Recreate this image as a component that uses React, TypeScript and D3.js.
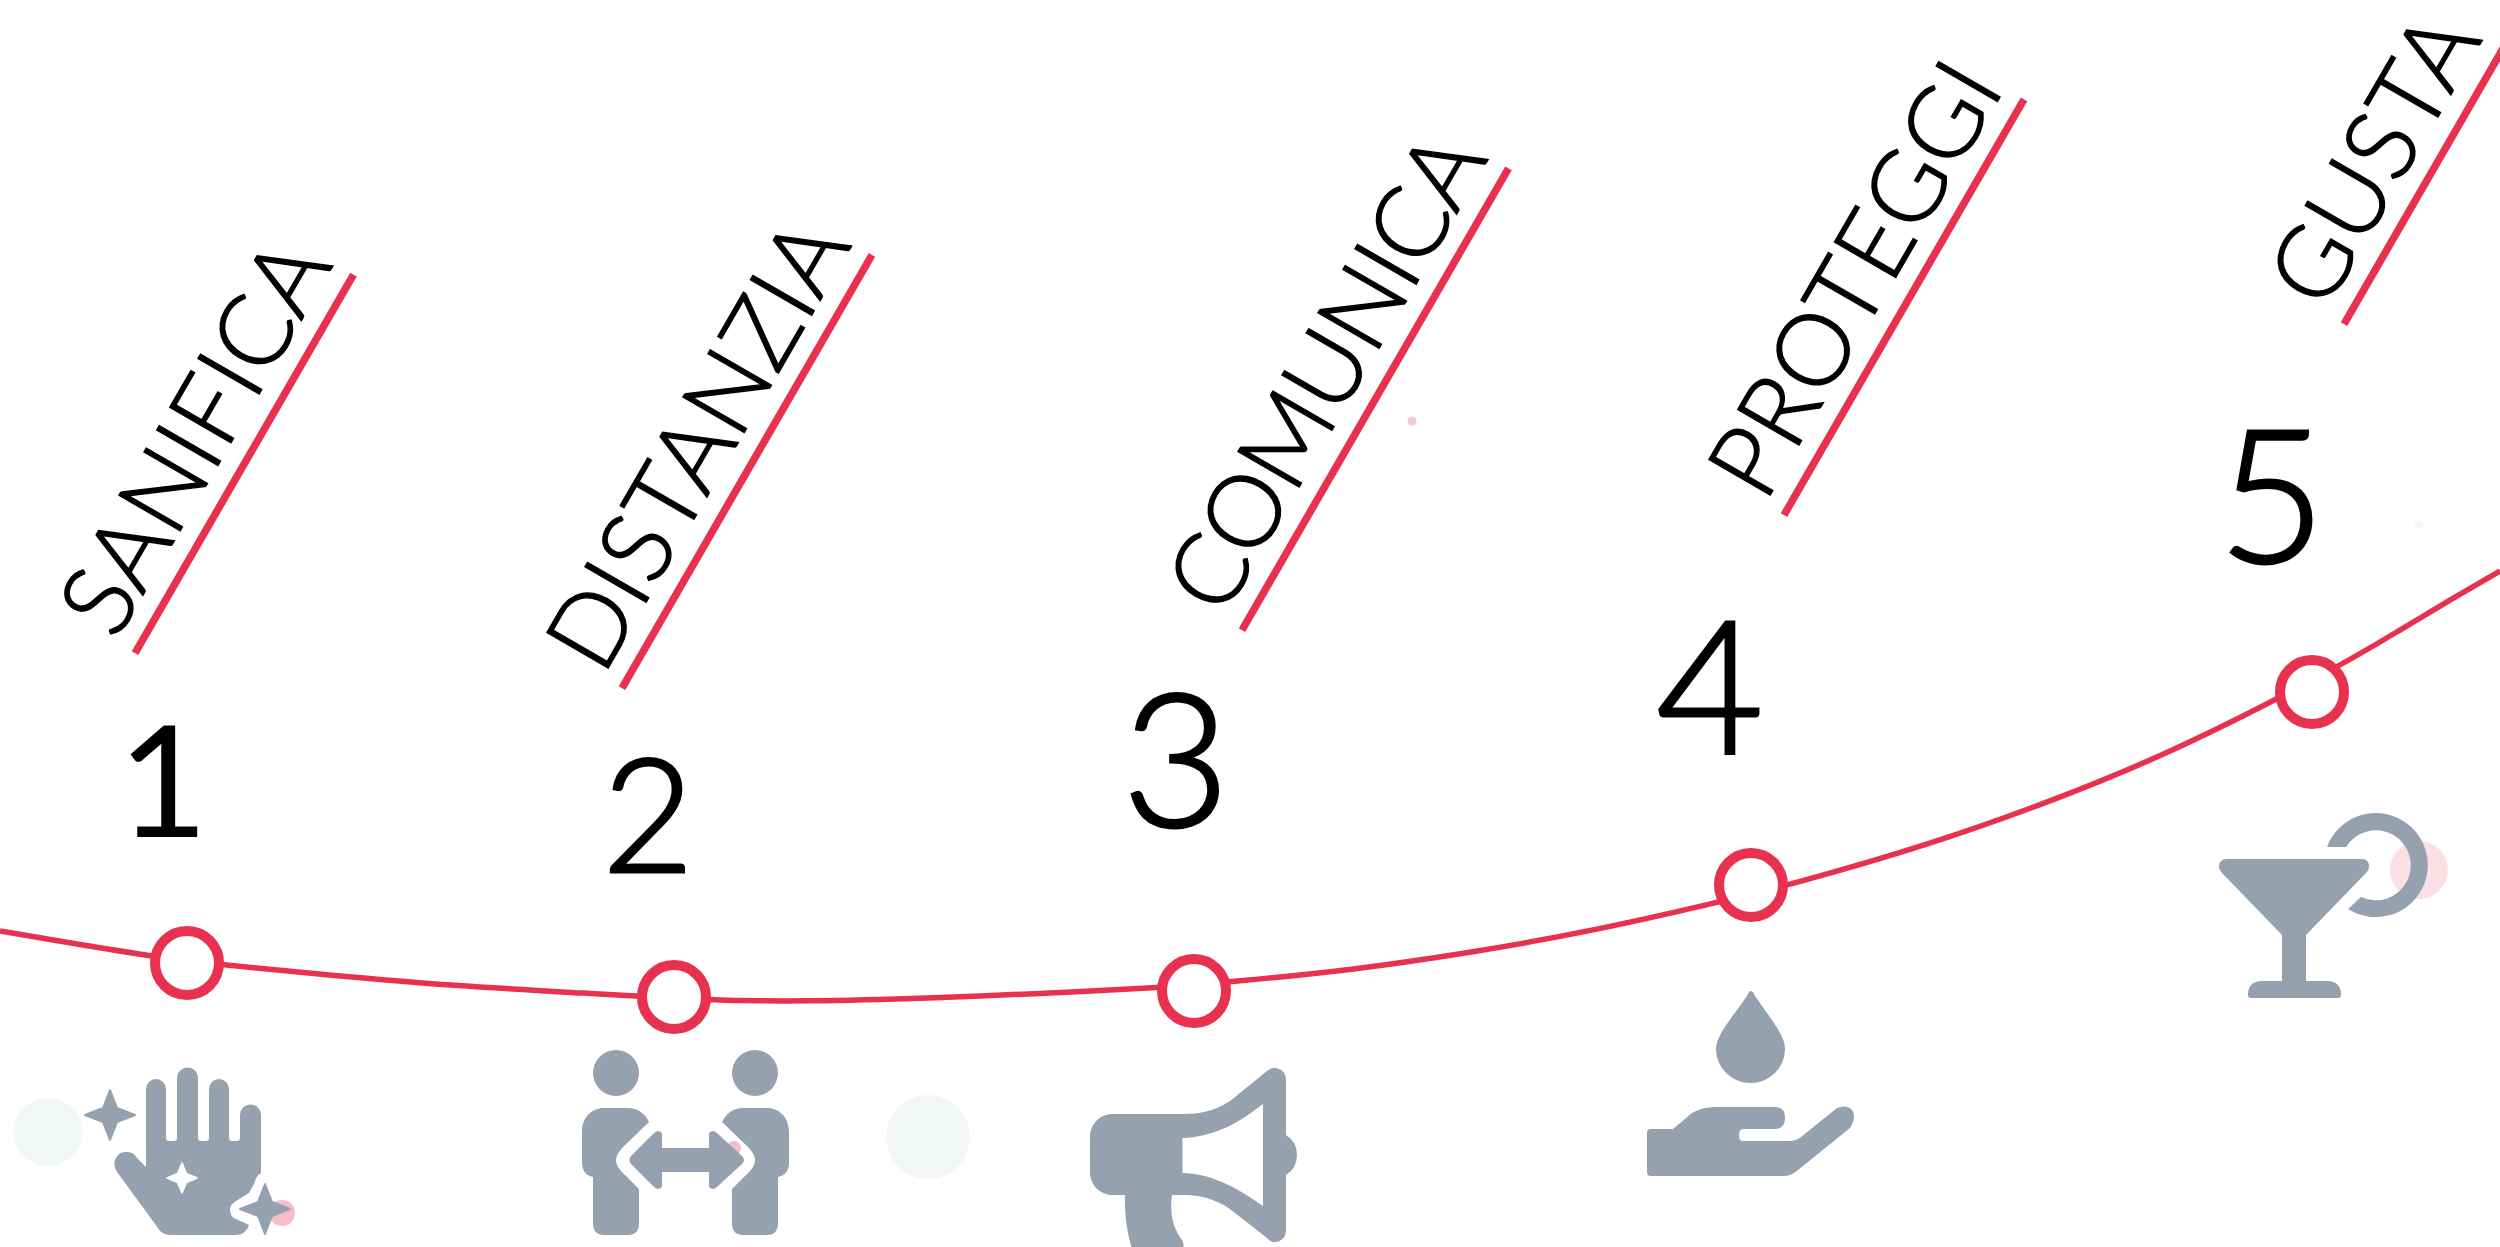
import React from "react";
import * as d3 from "d3";

const W = 2500;
const H = 1247;

// Steps
const stepNumbers = ["1", "2", "3", "4", "5"];
const stepLabels = ["SANIFICA", "DISTANZIA", "COMUNICA", "PROTEGGI", "GUSTA"];
const nodeX = [187, 674, 1194, 1751, 2312];
const nodeH = [284, 250, 256, 362, 555];
const numberX = [163, 648, 1176, 1710, 2272];
const numberH = [410, 375, 420, 493, 684];
const numberSize = [156, 158, 186, 186, 186];
const numberWeight = [400, 300, 300, 300, 300];
const numberStroke = [0, 3, 3, 3, 3];
const labelSpacing = [0, 0, -1.7, 0, 0];
const ruleStartX = [135, 622, 1242, 1784, 2344];
const ruleStartH = [594, 559, 617, 732, 923];
const ruleLength = [437, 500, 533, 480, 320];

// The growth curve
const curveX = [0, 152, 224, 328, 455, 583, 712, 806, 933, 1029, 1157, 1229, 1353, 1468, 1583, 1720, 1800, 1925, 2050, 2178, 2337, 2400, 2450, 2500];
const curveH = [316, 290, 282, 272, 261, 254, 246.5, 245.5, 249, 253, 259, 265, 277, 294, 314, 345, 365, 401, 445, 497, 579, 617, 647, 676];

// Background bubbles
const bubbleX = [48, 928, 282, 734, 1412, 2419, 2419];
const bubbleH = [115, 110, 34, 99, 826, 377, 722];
const bubbleR = [34, 42, 13, 7, 4.5, 29, 4];
const bubbleFill = ["#f2f6f7", "#f2f6f7", "#f6bdc8", "#f6bdc8", "#f8c6d0", "#fbe0e5", "#f4f6f7"];

const RED = "#e8304f";
const GREY = "#95a1af";
const INK = "#000000";

const star = (cx: number, cy: number, r: number, i: number) =>
  `M${cx} ${cy - r}L${cx + i} ${cy - i}L${cx + r} ${cy}L${cx + i} ${cy + i}L${cx} ${cy + r}L${cx - i} ${cy + i}L${cx - r} ${cy}L${cx - i} ${cy - i}Z`;

const handPath =
  "M146 1167L146 1089A10 10 0 0 1 166 1089L166 1138Q166 1141 169 1141L174 1141Q177 1141 177 1138L177 1078A10.5 10.5 0 0 1 198 1078L198 1138Q198 1141 201 1141L206 1141Q209 1141 209 1138L209 1089A10 10 0 0 1 229 1089L229 1138Q229 1141 232 1141L237 1141Q240 1141 240 1138L240 1115A10.5 10.5 0 0 1 261 1115L261 1173Q256 1176 254 1184L249 1193L236 1201Q230 1205 230 1209Q230 1217 236 1219L249 1225Q246 1235 235 1235L170 1235Q162 1235 158 1228L117 1172Q113 1165 115 1160Q119 1151 126 1152Q133 1151 137 1158L146 1167Z";
const personPath =
  "M582 1132C582 1117 592 1108 604 1108L628 1108Q642 1108 649 1122L622 1148Q616 1155 616 1160Q616 1166 622 1172L639 1189L639 1223Q639 1235 628 1235L604 1235Q593 1235 593 1223L593 1177Q582 1175 582 1162Z";
const arrowPath =
  "M631 1156L654 1133Q658 1129 662 1133L662 1148L709 1148L709 1133Q713 1129 717 1133L742 1156Q746 1160 742 1164L717 1187Q713 1191 709 1187L709 1172L662 1172L662 1187Q658 1191 654 1187L631 1164Q628 1160 631 1156Z";
const megaphonePath =
  "M1113 1114L1184 1114C1205 1114 1222 1108 1235 1097L1267 1071Q1272 1067 1276 1068Q1286 1070 1286 1080L1286 1135Q1297 1142 1297 1155Q1297 1168 1286 1175L1286 1230Q1286 1240 1276 1242Q1271 1243 1267 1238L1235 1213C1222 1202 1205 1195 1184 1195L1172 1195Q1168 1222 1182 1240Q1186 1247 1180 1252L1133 1252Q1124 1225 1125 1195L1113 1195C1100 1195 1090 1185 1090 1172L1090 1137C1090 1124 1100 1114 1113 1114ZM1182.5 1138L1182.5 1173C1215 1174 1240 1190 1263 1206L1263 1104C1240 1122 1215 1137 1182.5 1138Z";
const dropPath =
  "M1751 991Q1753 991 1755 996C1770 1018 1785 1035 1785 1049A34.5 34 0 0 1 1716 1049C1716 1035 1732 1018 1747 996Q1749 991 1751 991Z";
const palmPath =
  "M1651 1129L1673 1129L1692 1113Q1702 1107 1715 1107L1775 1107Q1785 1107 1785 1118Q1785 1129 1775 1129L1743 1129Q1739 1129 1739 1135Q1739 1141 1743 1141L1789 1141Q1796 1141 1801 1137L1837 1108Q1844 1105 1850 1108Q1858 1115 1850 1128L1798 1170Q1791 1176 1784 1176L1651 1176Q1647 1176 1647 1172L1647 1133Q1647 1129 1651 1129Z";
const glassPath =
  "M2227 859L2362 859Q2369 859 2369 867Q2369 870 2366 873L2306 935L2306 981L2327 981Q2341 981 2341 995Q2341 998 2338 998L2251 998Q2248 998 2248 995Q2248 981 2262 981L2282 981L2282 935L2222 873Q2219 870 2219 867Q2219 859 2227 859Z";
const ringPath = "M2327 847A52 52 0 1 1 2348 909L2361 897A35 35 0 1 0 2346 847Z";

export default function App() {
  const x = d3.scaleLinear().domain([0, W]).range([0, W]);
  const y = d3.scaleLinear().domain([0, H]).range([H, 0]);
  const line = d3
    .line<number>()
    .x((_, i) => x(curveX[i]))
    .y((d) => y(d))
    .curve(d3.curveBasis);

  return (
    <svg
      width={W}
      height={H}
      viewBox={`0 0 ${W} ${H}`}
      style={{ position: "absolute", left: 0, top: 0, display: "block", background: "#fff" }}
    >
      <g>
        {bubbleX.map((b, i) => (
          <circle key={i} cx={x(b)} cy={y(bubbleH[i])} r={bubbleR[i]} fill={bubbleFill[i]} />
        ))}
      </g>

      <path d={line(curveH) ?? ""} fill="none" stroke={RED} strokeWidth={5.5} />

      {nodeX.map((n, i) => (
        <circle key={i} cx={x(n)} cy={y(nodeH[i])} r={32} fill="#fff" stroke={RED} strokeWidth={10} />
      ))}

      {stepNumbers.map((s, i) => (
        <text
          key={s}
          x={x(numberX[i])}
          y={y(numberH[i])}
          textAnchor="middle"
          fontFamily="Lato"
          fontWeight={numberWeight[i]}
          fontSize={numberSize[i]}
          fill={INK}
          stroke={INK}
          strokeWidth={numberStroke[i]}
        >
          {s}
        </text>
      ))}

      {stepLabels.map((s, i) => (
        <g key={s} transform={`translate(${x(ruleStartX[i])},${y(ruleStartH[i])}) rotate(-60)`}>
          <line x1={0} y1={0} x2={ruleLength[i]} y2={0} stroke={RED} strokeWidth={7.5} />
          <text
            x={0}
            y={-22}
            fontFamily="Lato"
            fontWeight={300}
            fontSize={100}
            letterSpacing={labelSpacing[i]}
            fill={INK}
            stroke={INK}
            strokeWidth={1.4}
          >
            {s}
          </text>
        </g>
      ))}

      <g fill={GREY}>
        <path d={handPath} />
        <path d={star(110, 1115, 25, 7)} stroke={GREY} strokeWidth={2} strokeLinejoin="round" />
        <path d={star(265, 1209, 25, 7)} stroke={GREY} strokeWidth={2} strokeLinejoin="round" />
        <path d={star(182, 1178, 15, 4.5)} fill="#fff" stroke="#fff" strokeWidth={1.5} strokeLinejoin="round" />

        <circle cx={616} cy={1073} r={23} />
        <circle cx={755} cy={1073} r={23} />
        <path d={personPath} />
        <path d={personPath} transform="translate(1371,0) scale(-1,1)" />
        <path d={arrowPath} />

        <path d={megaphonePath} fillRule="evenodd" />

        <path d={dropPath} />
        <path d={palmPath} />

        <path d={glassPath} />
        <path d={ringPath} />
      </g>
    </svg>
  );
}
